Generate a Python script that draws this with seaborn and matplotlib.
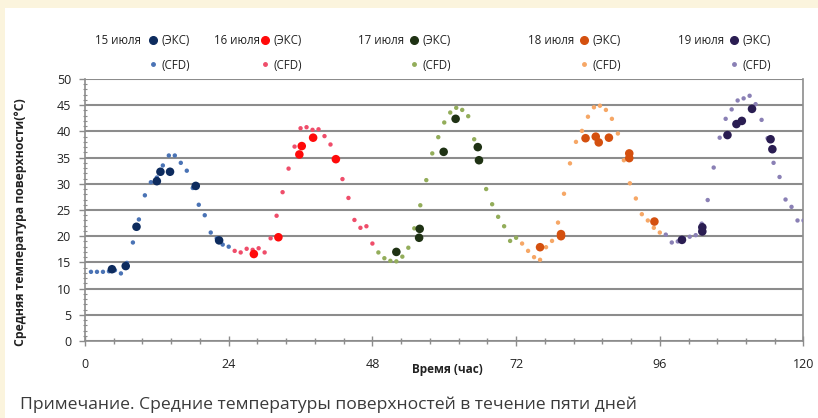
import matplotlib
matplotlib.use('Agg')
import matplotlib.pyplot as plt
from matplotlib.lines import Line2D
from matplotlib.patches import Rectangle
from matplotlib.ticker import MultipleLocator
import pandas as pd
import seaborn as sns

days = ['15 июля', '16 июля', '17 июля', '18 июля', '19 июля']

# CFD results (hourly)
cfd_t_15 = [1, 2, 3, 4, 5, 6, 7, 8, 9, 10, 11, 12, 13, 14, 15, 16, 17, 18, 19, 20, 21, 22, 23, 24]
cfd_T_15 = [13.2, 13.2, 13.2, 13.3, 13.5, 12.9, 14.9, 18.8, 23.2, 27.8, 30.3, 31.2,
            33.5, 35.4, 35.4, 34.0, 32.5, 29.2, 26.0, 24.0, 20.7, 19.6, 18.4, 18.0]
cfd_t_16 = [25, 26, 27, 28, 29, 30, 31, 32, 33, 34, 35, 36, 37, 38, 39, 40, 41, 42, 43, 44, 45, 46, 47, 48]
cfd_T_16 = [17.2, 16.9, 17.6, 17.4, 17.7, 16.9, 19.6, 23.9, 28.4, 32.9, 37.1, 40.6,
            40.8, 40.3, 40.4, 39.1, 37.5, 34.6, 30.9, 27.3, 23.1, 21.6, 21.9, 18.6]
cfd_t_17 = [49, 50, 51, 52, 53, 54, 55, 56, 57, 58, 59, 60, 61, 62, 63, 64, 65, 66, 67, 68, 69, 70, 71, 72]
cfd_T_17 = [16.9, 15.8, 15.3, 15.2, 16.1, 17.8, 21.5, 25.9, 30.7, 35.8, 38.9, 41.7,
            43.6, 44.5, 44.1, 42.9, 38.5, 34.2, 29.0, 26.1, 23.7, 21.9, 19.1, 19.7]
cfd_t_18 = [73, 74, 75, 76, 77, 78, 79, 80, 81, 82, 83, 84, 85, 86, 87, 88, 89, 90, 91, 92, 93, 94, 95, 96]
cfd_T_18 = [18.6, 17.2, 16.0, 15.5, 17.9, 19.1, 22.6, 28.1, 33.9, 38.0, 40.1, 42.8,
            44.6, 44.9, 44.1, 42.4, 39.6, 34.5, 30.1, 27.2, 24.2, 23.0, 21.6, 20.7]
cfd_t_19 = [97, 98, 99, 100, 101, 102, 103, 104, 105, 106, 107, 108, 109, 110, 111, 112,
            113, 114, 115, 116, 117, 118, 119, 120]
cfd_T_19 = [20.3, 18.8, 19.0, 19.6, 19.9, 20.2, 22.4, 26.9, 33.1, 38.8, 42.4, 44.2,
            45.9, 46.3, 46.8, 45.2, 42.2, 38.7, 34.0, 31.3, 27.0, 25.6, 23.0, 23.0]

# measurements (ЭКС)
exp_t_15 = [4.5, 6.8, 8.6, 12.0, 12.6, 14.2, 18.5, 22.4]
exp_T_15 = [13.7, 14.3, 21.8, 30.5, 32.3, 32.3, 29.6, 19.2]
exp_t_16 = [28.2, 32.3, 35.8, 36.2, 38.1, 41.9]
exp_T_16 = [16.6, 19.8, 35.6, 37.2, 38.8, 34.7]
exp_t_17 = [52.0, 55.8, 55.9, 59.9, 61.9, 65.6, 65.8]
exp_T_17 = [17.0, 19.7, 21.4, 36.1, 42.4, 37.0, 34.5]
exp_t_18 = [76.0, 79.5, 79.5, 83.6, 85.3, 85.8, 87.5, 90.9, 90.9, 95.1]
exp_T_18 = [17.9, 20.0, 20.4, 38.7, 39.0, 37.9, 38.8, 35.8, 34.9, 22.8]
exp_t_19 = [99.7, 103.1, 103.1, 107.3, 108.8, 109.7, 111.4, 114.5, 114.8]
exp_T_19 = [19.3, 21.7, 20.9, 39.3, 41.4, 42.0, 44.3, 38.5, 36.6]

exp_colors = ['#0d2b5e', '#ff0a0a', '#1f3214', '#d4500f', '#2a1d52']
cfd_colors = ['#4a73b5', '#ef4d6a', '#93ad5a', '#f6a766', '#8a80b5']

cfd_t = [cfd_t_15, cfd_t_16, cfd_t_17, cfd_t_18, cfd_t_19]
cfd_T = [cfd_T_15, cfd_T_16, cfd_T_17, cfd_T_18, cfd_T_19]
exp_t = [exp_t_15, exp_t_16, exp_t_17, exp_t_18, exp_t_19]
exp_T = [exp_T_15, exp_T_16, exp_T_17, exp_T_18, exp_T_19]

rows = []
for i, d in enumerate(days):
    for t, T in zip(cfd_t[i], cfd_T[i]):
        rows.append({'day': d, 'kind': 'CFD', 't': t, 'T': T})
    for t, T in zip(exp_t[i], exp_T[i]):
        rows.append({'day': d, 'kind': 'EXP', 't': t, 'T': T})
df = pd.DataFrame(rows)

sns.set_style('white')
plt.rcParams['font.family'] = ['Open Sans', 'DejaVu Sans']

W, H = 818, 418
fig = plt.figure(figsize=(W / 100, H / 100), dpi=100, facecolor='#fbf4dd')
fig.patches.append(Rectangle((5 / W, 0), 1, 1 - 8 / H, transform=fig.transFigure,
                             facecolor='white', edgecolor='none', zorder=-10))
ax = fig.add_axes([85 / W, 1 - 341 / H, (803.5 - 85) / W, (341 - 79) / H])
ax.set_facecolor('white')

sns.scatterplot(data=df[df['kind'] == 'CFD'], x='t', y='T', hue='day', palette=cfd_colors,
                s=10, linewidth=0, legend=False, ax=ax, zorder=3)
sns.scatterplot(data=df[df['kind'] == 'EXP'], x='t', y='T', hue='day', palette=exp_colors,
                s=38, linewidth=0, legend=False, ax=ax, zorder=4)

ax.set_xlim(0, 120)
ax.set_ylim(0, 50)
ax.xaxis.set_major_locator(MultipleLocator(24))
ax.xaxis.set_minor_locator(MultipleLocator(4.8))
ax.yaxis.set_major_locator(MultipleLocator(5))
ax.yaxis.set_minor_locator(MultipleLocator(1))
ax.grid(axis='y', which='major', color='#8c8c8c', linewidth=1.5, zorder=1)
ax.set_axisbelow(True)
for side in ['left', 'bottom', 'right']:
    ax.spines[side].set_color('#8c8c8c')
    ax.spines[side].set_linewidth(1.2)
ax.spines['top'].set_visible(False)
ax.tick_params(axis='x', which='major', direction='inout', length=7, width=1, color='#8c8c8c',
               pad=9, labelsize=9, labelcolor='#222222')
ax.tick_params(axis='x', which='minor', direction='inout', length=4, width=1, color='#8c8c8c')
ax.tick_params(axis='y', which='major', direction='out', length=4, width=1, color='#8c8c8c',
               pad=6, labelsize=9, labelcolor='#222222')
ax.tick_params(axis='y', which='minor', direction='inout', length=3, width=0.8, color='#8c8c8c')
ax.tick_params(left=True, bottom=True, which='both')

ax.set_xlabel('Время (час)', fontsize=8.5, fontweight='bold', color='#222222')
ax.xaxis.set_label_coords((447 - 85) / (803.5 - 85), -(363 - 341) / (341 - 79))
ax.set_ylabel('Средняя температура поверхности(°C)', fontsize=8.8, fontweight='bold',
              color='#222222')
ax.yaxis.set_label_coords(-(85 - 27) / (803.5 - 85), (341 - 222) / (341 - 79))

# legend: one column per day
date_x = [95, 214, 358, 528, 678]
mark_x = [153, 265, 414, 584, 734]
for i, d in enumerate(days):
    fig.text(date_x[i] / W, 1 - 41 / H, d, ha='left', va='center', fontsize=8.3, color='#222222')
    handles = [Line2D([], [], marker='o', linestyle='', color=exp_colors[i], markersize=5.5),
               Line2D([], [], marker='o', linestyle='', color=cfd_colors[i], markersize=2.5)]
    fig.legend(handles, ['(ЭКС)', '(CFD)'], loc='upper left',
               bbox_to_anchor=((mark_x[i] - 4.5) / W, 1 - 34 / H), frameon=False,
               handlelength=0.8, handletextpad=0.32, labelspacing=1.0, borderpad=0,
               borderaxespad=0, fontsize=8.3, labelcolor='#222222')

fig.text(20 / W, 1 - 405 / H, 'Примечание. Средние температуры поверхностей в течение пяти дней',
         ha='left', va='center', fontsize=12.6, color='#3a3a3a')

fig.savefig('out.png', dpi=100, facecolor=fig.get_facecolor())
